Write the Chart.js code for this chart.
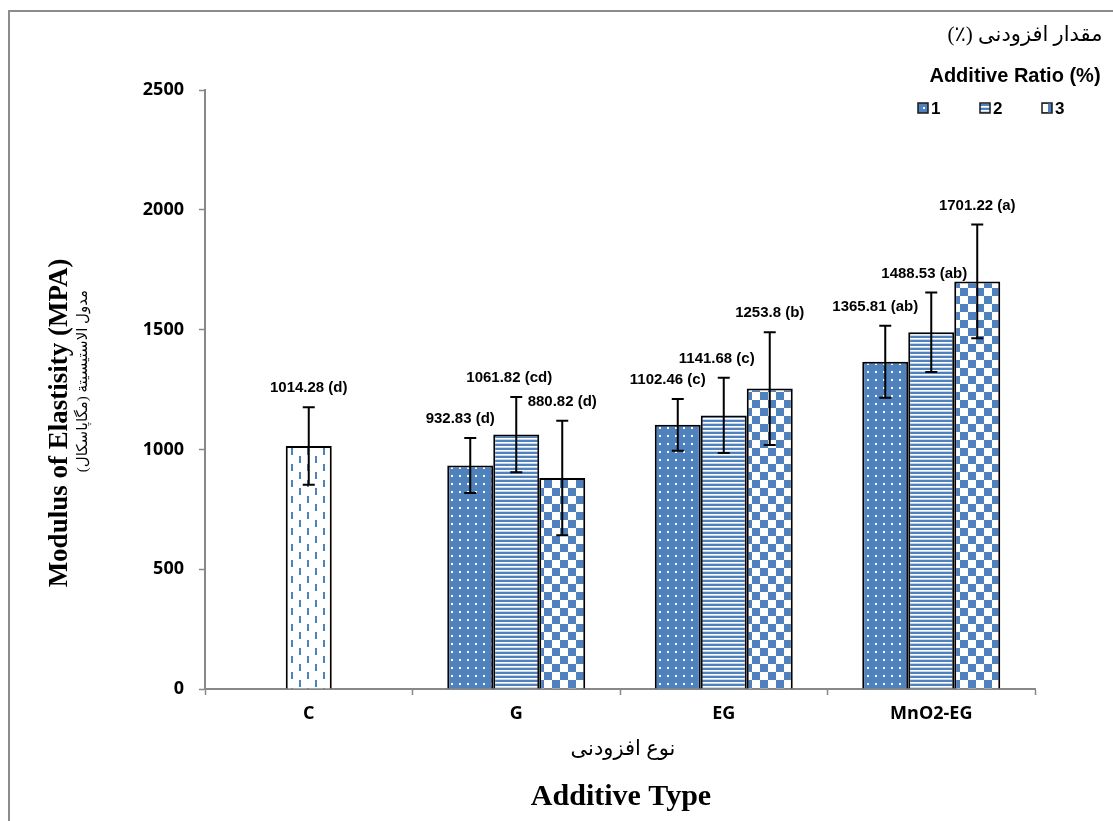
<!DOCTYPE html>
<html>
<head>
<meta charset="utf-8">
<script src="https://cdn.jsdelivr.net/npm/chart.js@4/dist/chart.umd.min.js"></script>
<style>
  html, body { margin: 0; padding: 0; background: #fff; }
  #wrap { width: 1113px; height: 821px; }
</style>
</head>
<body>
<div id="wrap"><canvas id="modulusChart" width="1113" height="821"></canvas></div>
<script>
// Data
const categories = ['C', 'G', 'EG', 'MnO2-EG'];
const seriesNames = ['1', '2', '3'];

const controlValues = [1014.28, null, null, null];
const ratio1Values = [null, 932.83, 1102.46, 1365.81];
const ratio2Values = [null, 1061.82, 1141.68, 1488.53];
const ratio3Values = [null, 880.82, 1253.8, 1701.22];

const controlErrors = [162, null, null, null];
const ratio1Errors = [null, 115, 108, 150];
const ratio2Errors = [null, 157, 157, 166];
const ratio3Errors = [null, 239, 235, 237];

const controlLetters = ['d', null, null, null];
const ratio1Letters = [null, 'd', 'c', 'ab'];
const ratio2Letters = [null, 'cd', 'c', 'ab'];
const ratio3Letters = [null, 'd', 'b', 'a'];

const yTicks = [0, 500, 1000, 1500, 2000, 2500];

const BLUE = '#4F81BD';
const GREY = '#888888';

// Pattern fills, similar to the Excel ones
function makePattern(w, h, paint) {
    const c = document.createElement('canvas');
    c.width = w;
    c.height = h;
    const g = c.getContext('2d');
    paint(g);
    return document.createElement('canvas').getContext('2d').createPattern(c, 'repeat');
}

const dotPattern = makePattern(8, 8, function (g) {
    g.fillStyle = BLUE;
    g.fillRect(0, 0, 8, 8);
    g.fillStyle = '#ffffff';
    g.fillRect(3, 3, 2, 2);
});
const stripePattern = makePattern(4, 4, function (g) {
    g.fillStyle = BLUE;
    g.fillRect(0, 0, 4, 4);
    g.fillStyle = '#ffffff';
    g.fillRect(0, 2, 4, 1);
    g.fillStyle = '#c9d7ea';
    g.fillRect(0, 3, 4, 1);
});
const checkPattern = makePattern(16, 16, function (g) {
    g.fillStyle = '#ffffff';
    g.fillRect(0, 0, 16, 16);
    g.fillStyle = BLUE;
    g.fillRect(0, 0, 8, 8);
    g.fillRect(8, 8, 8, 8);
});
const dashPattern = makePattern(16, 16, function (g) {
    g.fillStyle = '#ffffff';
    g.fillRect(0, 0, 16, 16);
    g.fillStyle = BLUE;
    g.fillRect(3, 0, 2, 7);
    g.fillRect(11, 8, 2, 7);
});

const labelFont = 'bold 15px "Liberation Sans", Arial, sans-serif';
const tickFont = { family: '"Open Sans", Lato, sans-serif', size: 18, weight: 'bold' };

// Frame, titles and legend
const decorPlugin = {
    id: 'decor',
    beforeDraw(chart) {
        const ctx = chart.ctx;
        ctx.save();
        ctx.fillStyle = '#ffffff';
        ctx.fillRect(0, 0, chart.width, chart.height);
        ctx.strokeStyle = '#8c8c8c';
        ctx.lineWidth = 2;
        ctx.beginPath();
        ctx.moveTo(9, chart.height);
        ctx.lineTo(9, 11);
        ctx.lineTo(chart.width, 11);
        ctx.stroke();
        ctx.restore();
    },
    afterDraw(chart) {
        const ctx = chart.ctx;
        const area = chart.chartArea;
        const midX = (area.left + area.right) / 2;
        ctx.save();
        ctx.fillStyle = '#000000';
        ctx.textAlign = 'center';
        ctx.textBaseline = 'middle';

        // x axis titles
        ctx.direction = 'rtl';
        ctx.font = '21px "Liberation Serif", "DejaVu Sans", serif';
        ctx.fillText('نوع افزودنی', midX + 3, 749);
        ctx.direction = 'ltr';
        ctx.font = 'bold 30px "Liberation Serif", "Times New Roman", serif';
        ctx.fillText('Additive Type', midX + 1, 797);

        // y axis titles
        ctx.save();
        ctx.translate(60, 423);
        ctx.rotate(-Math.PI / 2);
        ctx.font = 'bold 27px "Liberation Serif", "Times New Roman", serif';
        ctx.fillText('Modulus of Elastisity (MPA)', 0, 0);
        ctx.restore();
        ctx.save();
        ctx.translate(83, 381);
        ctx.rotate(-Math.PI / 2);
        ctx.direction = 'rtl';
        ctx.font = '15px "Liberation Serif", "DejaVu Sans", serif';
        ctx.fillText('مدول الاستیسیتة (مگاپاسکال)', 0, 0);
        ctx.restore();

        // legend
        ctx.direction = 'rtl';
        ctx.font = '21px "Liberation Serif", "DejaVu Sans", serif';
        ctx.fillText('مقدار افزودنی (٪)', 1025, 35);
        ctx.direction = 'ltr';
        ctx.font = 'bold 20px "Liberation Sans", Arial, sans-serif';
        ctx.fillText('Additive Ratio (%)', 1015, 76);

        const fills = [dotPattern, stripePattern, checkPattern];
        ctx.textAlign = 'left';
        ctx.font = 'bold 17px "Liberation Sans", Arial, sans-serif';
        seriesNames.forEach(function (name, i) {
            const bx = 918 + i * 62;
            ctx.fillStyle = fills[i];
            ctx.fillRect(bx, 103, 10, 10);
            ctx.strokeStyle = '#1a1a1a';
            ctx.lineWidth = 1.5;
            ctx.strokeRect(bx, 103, 10, 10);
            ctx.fillStyle = '#000000';
            ctx.fillText(name, bx + 13, 109);
        });
        ctx.restore();
    }
};

// Error bars and the value labels above them
const errorPlugin = {
    id: 'errorBars',
    afterDatasetsDraw(chart) {
        const ctx = chart.ctx;
        const y = chart.scales.y;
        const shifts = [0, -10, -7, 0];
        ctx.save();
        chart.data.datasets.forEach(function (ds, i) {
            const meta = chart.getDatasetMeta(i);
            meta.data.forEach(function (bar, j) {
                const v = ds.data[j];
                if (v === null || v === undefined) return;
                const e = ds.errors[j];
                const top = y.getPixelForValue(v + e);
                const bottom = y.getPixelForValue(v - e);
                ctx.strokeStyle = '#000000';
                ctx.lineWidth = 2;
                ctx.beginPath();
                ctx.moveTo(bar.x, top);
                ctx.lineTo(bar.x, bottom);
                ctx.moveTo(bar.x - 6, top);
                ctx.lineTo(bar.x + 6, top);
                ctx.moveTo(bar.x - 6, bottom);
                ctx.lineTo(bar.x + 6, bottom);
                ctx.stroke();

                ctx.fillStyle = '#000000';
                ctx.font = labelFont;
                ctx.textAlign = 'center';
                ctx.textBaseline = 'middle';
                ctx.fillText(v + ' (' + ds.letters[j] + ')', bar.x + shifts[i], top - 19);
            });
        });
        ctx.restore();
    }
};

const ctx = document.getElementById('modulusChart').getContext('2d');
new Chart(ctx, {
    type: 'bar',
    data: {
        labels: categories,
        datasets: [
            {
                label: 'C',
                data: controlValues,
                errors: controlErrors,
                letters: controlLetters,
                backgroundColor: dashPattern,
                borderColor: '#000000',
                borderWidth: 2,
                barPercentage: 1 / 3,
                categoryPercentage: 0.665,
                skipNull: true
            },
            {
                label: seriesNames[0],
                data: ratio1Values,
                errors: ratio1Errors,
                letters: ratio1Letters,
                backgroundColor: dotPattern,
                borderColor: '#000000',
                borderWidth: 2,
                barPercentage: 1,
                categoryPercentage: 0.665,
                skipNull: true
            },
            {
                label: seriesNames[1],
                data: ratio2Values,
                errors: ratio2Errors,
                letters: ratio2Letters,
                backgroundColor: stripePattern,
                borderColor: '#000000',
                borderWidth: 2,
                barPercentage: 1,
                categoryPercentage: 0.665,
                skipNull: true
            },
            {
                label: seriesNames[2],
                data: ratio3Values,
                errors: ratio3Errors,
                letters: ratio3Letters,
                backgroundColor: checkPattern,
                borderColor: '#000000',
                borderWidth: 2,
                barPercentage: 1,
                categoryPercentage: 0.665,
                skipNull: true
            }
        ]
    },
    options: {
        responsive: false,
        animation: false,
        layout: {
            padding: { left: 0, top: 90, right: 78, bottom: 0 }
        },
        plugins: {
            legend: { display: false },
            tooltip: { enabled: false }
        },
        scales: {
            x: {
                afterFit: function (scale) { scale.height = 132; },
                grid: {
                    display: true,
                    drawOnChartArea: false,
                    offset: true,
                    color: GREY,
                    tickLength: 6,
                    tickWidth: 1.5
                },
                border: { color: GREY, width: 2 },
                ticks: {
                    color: '#000000',
                    font: tickFont,
                    padding: 8
                }
            },
            y: {
                min: 0,
                max: 2500,
                afterFit: function (scale) { scale.width = 205; },
                afterBuildTicks: function (scale) {
                    scale.ticks = yTicks.map(function (v) { return { value: v }; });
                },
                grid: {
                    display: true,
                    drawOnChartArea: false,
                    color: GREY,
                    tickLength: 6,
                    tickWidth: 1.5
                },
                border: { color: GREY, width: 2 },
                ticks: {
                    color: '#000000',
                    font: tickFont,
                    padding: 15,
                    callback: function (value) { return String(value); }
                }
            }
        }
    },
    plugins: [decorPlugin, errorPlugin]
});
</script>
</body>
</html>
